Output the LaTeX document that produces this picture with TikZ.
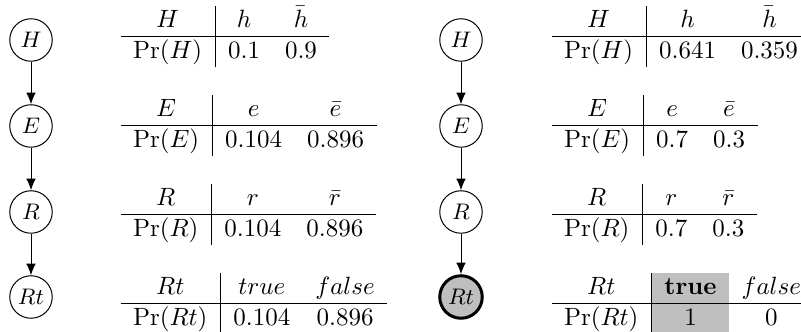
\documentclass[tikz,border=0pt]{standalone}
\usepackage{colortbl}
\usetikzlibrary{arrows.meta,positioning}

\begin{document}
\begin{tikzpicture}[x=0.4pt,y=-0.4pt]
    \definecolor{evidenceColour}{gray}{0.75}
    \setlength{\tabcolsep}{5pt}
    \tikzset{
        var/.style={circle, draw, minimum size=17pt, inner sep=0pt, font=\small},
        obs/.style={var, fill=evidenceColour, line width=1.2pt},
        cpt/.style={inner sep=0pt, anchor=north west},
        >={Latex[length=4.6pt,width=3.8pt]}
    }

    % Fix the page
    \useasboundingbox (0,0) rectangle (801,332);
    \clip (0,0) rectangle (801,332);

    % Prior network (left)
    \node[var] (lH)  at (31,40)  {$H$};
    \node[var] (lE)  at (31,126) {$E$};
    \node[var] (lR)  at (31,212) {$R$};
    \node[var] (lRt) at (31,297) {$Rt$};
    \draw[->] (lH) -- (lE);
    \draw[->] (lE) -- (lR);
    \draw[->] (lR) -- (lRt);

    % Prior tables
    \node[cpt] (tabLH) at (120,6) {\begin{tabular}{c|cc}
        $H$ & $h$ & $\bar{h}$ \\ \hline
        $\Pr(H)$ & $0.1$ & $0.9$
    \end{tabular}};
    \node[cpt] (tabLE) at (120,95) {\begin{tabular}{c|cc}
        $E$ & $e$ & $\bar{e}$ \\ \hline
        $\Pr(E)$ & $0.104$ & $0.896$
    \end{tabular}};
    \node[cpt] (tabLR) at (120,184) {\begin{tabular}{c|cc}
        $R$ & $r$ & $\bar{r}$ \\ \hline
        $\Pr(R)$ & $0.104$ & $0.896$
    \end{tabular}};
    \node[cpt] (tabLRt) at (120,273) {\begin{tabular}{c|cc}
        $Rt$ & $true$ & $false$ \\ \hline
        $\Pr(Rt)$ & $0.104$ & $0.896$
    \end{tabular}};

    % Posterior network (right), Rt observed
    \node[var] (rH)  at (461,40)  {$H$};
    \node[var] (rE)  at (461,126) {$E$};
    \node[var] (rR)  at (461,212) {$R$};
    \node[obs] (rRt) at (461,297) {$Rt$};
    \draw[->] (rH) -- (rE);
    \draw[->] (rE) -- (rR);
    \draw[->] (rR) -- (rRt);

    % Posterior tables
    \node[cpt] (tabRH) at (551,6) {\begin{tabular}{c|cc}
        $H$ & $h$ & $\bar{h}$ \\ \hline
        $\Pr(H)$ & $0.641$ & $0.359$
    \end{tabular}};
    \node[cpt] (tabRE) at (551,95) {\begin{tabular}{c|cc}
        $E$ & $e$ & $\bar{e}$ \\ \hline
        $\Pr(E)$ & $0.7$ & $0.3$
    \end{tabular}};
    \node[cpt] (tabRR) at (551,184) {\begin{tabular}{c|cc}
        $R$ & $r$ & $\bar{r}$ \\ \hline
        $\Pr(R)$ & $0.7$ & $0.3$
    \end{tabular}};
    \node[cpt] (tabRRt) at (551,273) {\begin{tabular}{c|cc}
        $Rt$ & \cellcolor{evidenceColour}\textbf{true} & $false$ \\ \hline
        $\Pr(Rt)$ & \cellcolor{evidenceColour}$1$ & $0$
    \end{tabular}};

\end{tikzpicture}
\end{document}
